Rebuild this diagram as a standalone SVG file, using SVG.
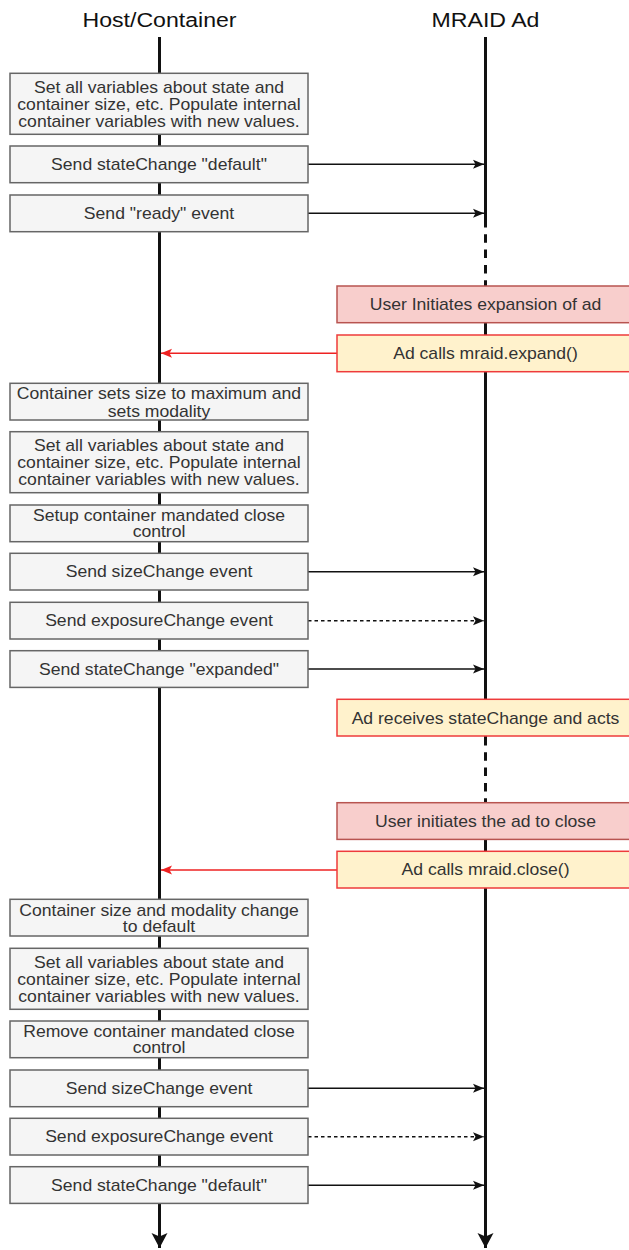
<svg xmlns="http://www.w3.org/2000/svg" width="629" height="1250" viewBox="0 0 629 1250">
<style>
.title{font-family:"Liberation Sans",Arial,sans-serif;font-size:21px;fill:#111;text-anchor:middle}
.t{font-family:"Liberation Sans",Arial,sans-serif;font-size:16px;fill:#333;text-anchor:middle}
.gray{fill:#f5f5f5;stroke:#666;stroke-width:1.5}
.pink{fill:#f8cecc;stroke:#b85450;stroke-width:1.5}
.yellow{fill:#fff2cc;stroke:#ee3b3b;stroke-width:1.5}
.life{stroke:#111;stroke-width:3;fill:none}
.lifed{stroke:#111;stroke-width:3;fill:none;stroke-dasharray:8.5 6.8}
.msg{stroke:#111;stroke-width:1.5;fill:none;marker-end:url(#ah)}
.msgd{stroke:#111;stroke-width:1.5;fill:none;stroke-dasharray:3.5 3;marker-end:url(#ah)}
.red{stroke:#ee2222;stroke-width:1.5;fill:none;marker-end:url(#ahr)}
</style>
<defs>
<marker id="ah" markerUnits="userSpaceOnUse" markerWidth="12" markerHeight="10" refX="11" refY="5" orient="auto">
<path d="M0,0.5 L11,5 L0,9.5 L2.5,5 Z" fill="#111"/>
</marker>
<marker id="ahr" markerUnits="userSpaceOnUse" markerWidth="12" markerHeight="10" refX="11" refY="5" orient="auto">
<path d="M0,0.5 L11,5 L0,9.5 L2.5,5 Z" fill="#ee2222"/>
</marker>
<marker id="ahl" markerUnits="userSpaceOnUse" markerWidth="18" markerHeight="18" refX="15" refY="9" orient="auto">
<path d="M0,1 L15,9 L0,17 L3.5,9 Z" fill="#111"/>
</marker>
</defs>

<g id="titles">
<text class="title" transform="translate(159.5 27) scale(1.1 1)">Host/Container</text>
<text class="title" transform="translate(485.5 27) scale(1.1 1)">MRAID Ad</text>
</g>

<g id="lifelines">
<path class="life" d="M159.5,37 V1248" marker-end="url(#ahl)"/>
<path class="life" d="M485.5,37 V219"/>
<path class="lifed" d="M485.5,219 V286"/>
<path class="life" d="M485.5,322 V737"/>
<path class="lifed" d="M485.5,737 V803"/>
<path class="life" d="M485.5,839 V1248" marker-end="url(#ahl)"/>
</g>

<g id="connectors">
<path class="msg" d="M308,164.3 H484"/>
<path class="msg" d="M308,213.3 H484"/>
<path class="red" d="M337,353.3 H161"/>
<path class="msg" d="M308,571.7 H484"/>
<path class="msgd" d="M308,620.7 H484"/>
<path class="msg" d="M308,669 H484"/>
<path class="red" d="M337,870 H161"/>
<path class="msg" d="M308,1088.3 H484"/>
<path class="msgd" d="M308,1136.7 H484"/>
<path class="msg" d="M308,1185.3 H484"/>
</g>

<g id="n1"><rect class="gray" x="10" y="73.3" width="298" height="61"/>
<text class="t" transform="translate(159 93) scale(1.1 1)">Set all variables about state and</text>
<text class="t" transform="translate(159 109.9) scale(1.1 1)">container size, etc. Populate internal</text>
<text class="t" transform="translate(159 126.7) scale(1.1 1)">container variables with new values.</text></g>
<g id="n2"><rect class="gray" x="10" y="146" width="298" height="36.7"/>
<text class="t" transform="translate(159 170) scale(1.1 1)">Send stateChange "default"</text></g>
<g id="n3"><rect class="gray" x="10" y="195" width="298" height="36.7"/>
<text class="t" transform="translate(159 219) scale(1.1 1)">Send "ready" event</text></g>

<g id="n4"><rect class="pink" x="337" y="286" width="297" height="36.7"/>
<text class="t" transform="translate(485.5 310) scale(1.1 1)">User Initiates expansion of ad</text></g>
<g id="n5"><rect class="yellow" x="337" y="335" width="297" height="36.7"/>
<text class="t" transform="translate(485.5 359) scale(1.1 1)">Ad calls mraid.expand()</text></g>

<g id="n6"><rect class="gray" x="10" y="383.3" width="298" height="36.7"/>
<text class="t" transform="translate(159 399) scale(1.1 1)">Container sets size to maximum and</text>
<text class="t" transform="translate(159 416.6) scale(1.1 1)">sets modality</text></g>
<g id="n7"><rect class="gray" x="10" y="431.7" width="298" height="61"/>
<text class="t" transform="translate(159 451.4) scale(1.1 1)">Set all variables about state and</text>
<text class="t" transform="translate(159 468.3) scale(1.1 1)">container size, etc. Populate internal</text>
<text class="t" transform="translate(159 485.1) scale(1.1 1)">container variables with new values.</text></g>
<g id="n8"><rect class="gray" x="10" y="505" width="298" height="36.7"/>
<text class="t" transform="translate(159 520.7) scale(1.1 1)">Setup container mandated close</text>
<text class="t" transform="translate(159 537.3) scale(1.1 1)">control</text></g>
<g id="n9"><rect class="gray" x="10" y="553.3" width="298" height="36.7"/>
<text class="t" transform="translate(159 577.4) scale(1.1 1)">Send sizeChange event</text></g>
<g id="n10"><rect class="gray" x="10" y="602.3" width="298" height="36.7"/>
<text class="t" transform="translate(159 626.4) scale(1.1 1)">Send exposureChange event</text></g>
<g id="n11"><rect class="gray" x="10" y="650.7" width="298" height="36.7"/>
<text class="t" transform="translate(159 674.7) scale(1.1 1)">Send stateChange "expanded"</text></g>

<g id="n12"><rect class="yellow" x="337" y="699.3" width="297" height="36.7"/>
<text class="t" transform="translate(485.5 723.5) scale(1.1 1)">Ad receives stateChange and acts</text></g>
<g id="n13"><rect class="pink" x="337" y="802.7" width="297" height="36.7"/>
<text class="t" transform="translate(485.5 826.7) scale(1.1 1)">User initiates the ad to close</text></g>
<g id="n14"><rect class="yellow" x="337" y="851.3" width="297" height="36.7"/>
<text class="t" transform="translate(485.5 875.4) scale(1.1 1)">Ad calls mraid.close()</text></g>

<g id="n15"><rect class="gray" x="10" y="899.3" width="298" height="36.7"/>
<text class="t" transform="translate(159 915.5) scale(1.1 1)">Container size and modality change</text>
<text class="t" transform="translate(159 932.2) scale(1.1 1)">to default</text></g>
<g id="n16"><rect class="gray" x="10" y="948.3" width="298" height="61"/>
<text class="t" transform="translate(159 968) scale(1.1 1)">Set all variables about state and</text>
<text class="t" transform="translate(159 984.9) scale(1.1 1)">container size, etc. Populate internal</text>
<text class="t" transform="translate(159 1001.7) scale(1.1 1)">container variables with new values.</text></g>
<g id="n17"><rect class="gray" x="10" y="1021" width="298" height="36.7"/>
<text class="t" transform="translate(159 1036.7) scale(1.1 1)">Remove container mandated close</text>
<text class="t" transform="translate(159 1053.3) scale(1.1 1)">control</text></g>
<g id="n18"><rect class="gray" x="10" y="1070" width="298" height="36.7"/>
<text class="t" transform="translate(159 1094) scale(1.1 1)">Send sizeChange event</text></g>
<g id="n19"><rect class="gray" x="10" y="1118.3" width="298" height="36.7"/>
<text class="t" transform="translate(159 1142.4) scale(1.1 1)">Send exposureChange event</text></g>
<g id="n20"><rect class="gray" x="10" y="1166.7" width="298" height="36.7"/>
<text class="t" transform="translate(159 1190.7) scale(1.1 1)">Send stateChange "default"</text></g>
</svg>
